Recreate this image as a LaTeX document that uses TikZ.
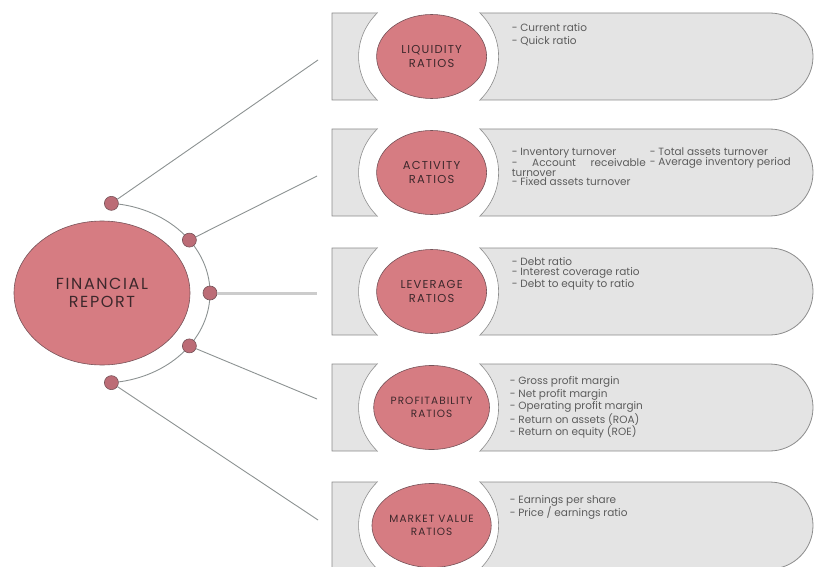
\documentclass[tikz,border=0pt]{standalone}
\usepackage{fontspec}
\setmainfont{Poppins}
\newfontfamily\capsfont[LetterSpace=10]{Poppins}
\usepackage{tikz}
\usetikzlibrary{positioning, calc, shapes.geometric, shapes.misc}
\definecolor{frInk}{RGB}{62,40,44}
\definecolor{frText}{RGB}{92,92,92}
\definecolor{frPink}{RGB}{214,124,130}
\definecolor{frDot}{RGB}{188,108,118}
\definecolor{frRim}{RGB}{118,82,88}
\definecolor{frBox}{RGB}{228,228,228}
\definecolor{frBoxLine}{RGB}{140,140,140}
\definecolor{frLine}{RGB}{140,146,146}
\definecolor{frLineT}{RGB}{204,204,204}

\begin{document}
\begin{tikzpicture}[
    x=1pt, y=-1pt,
    ratiobox/.style={rounded rectangle, rounded rectangle west arc=none, draw=frBoxLine, fill=frBox,
                     line width=0.8pt, minimum width=481pt, minimum height=87pt, inner sep=0pt},
    halo/.style={ellipse, fill=white, minimum width=140pt, minimum height=128pt, inner sep=0pt},
    ring/.style={draw=frBoxLine, line width=0.6pt},
    ratiocirc/.style={ellipse, draw=frRim, fill=frPink, line width=0.6pt, minimum width=110pt,
                      minimum height=84pt, inner sep=0pt, align=center, text=frInk,
                      font=\capsfont\fontsize{11.5}{13.5}\selectfont},
    items/.style={anchor=north west, align=left, inner sep=0pt, text=frText,
                  font=\fontsize{10.5}{13}\selectfont},
    joint/.style={circle, draw=frRim, fill=frDot, line width=0.6pt, minimum size=14pt, inner sep=0pt},
    spoke/.style={draw=frLine, line width=0.9pt},
    mainspoke/.style={draw=frLineT, line width=3pt},
]
\useasboundingbox (0,0) rectangle (817,567);

% --- Right: the five ratio boxes ---
\node[ratiobox] (b1) at (572.5,56.5) {};
\node[ratiobox] (b2) at (572.5,172.5) {};
\node[ratiobox] (b3) at (572.5,291.5) {};
\node[ratiobox] (b4) at (572.5,407.5) {};
\node[ratiobox] (b5) at (572.5,525.5) {};

% White halos behind the ratio circles
\node[halo] (w1) at ([xshift=97pt]b1.west) {};
\node[halo] (w2) at ([xshift=97pt]b2.west) {};
\node[halo] (w3) at ([xshift=97pt]b3.west) {};
\node[halo] (w4) at ([xshift=97pt]b4.west) {};
\node[halo] (w5) at ([xshift=97pt]b5.west) {};

% Halo outlines, only inside the boxes
\begin{scope}
  \clip (b1.south west) rectangle (b1.north east) (b2.south west) rectangle (b2.north east)
        (b3.south west) rectangle (b3.north east) (b4.south west) rectangle (b4.north east)
        (b5.south west) rectangle (b5.north east);
  \draw[ring] (w1.center) ellipse [x radius=70pt, y radius=64pt];
  \draw[ring] (w2.center) ellipse [x radius=70pt, y radius=64pt];
  \draw[ring] (w3.center) ellipse [x radius=70pt, y radius=64pt];
  \draw[ring] (w4.center) ellipse [x radius=70pt, y radius=64pt];
  \draw[ring] (w5.center) ellipse [x radius=70pt, y radius=64pt];
\end{scope}

% Ratio circles
\node[ratiocirc] (r1) at ([xshift=3pt]w1.center) {LIQUIDITY\\RATIOS};
\node[ratiocirc] (r2) at ([xshift=3pt]w2.center) {ACTIVITY\\RATIOS};
\node[ratiocirc] (r3) at ([xshift=3pt]w3.center) {LEVERAGE\\RATIOS};
\node[ratiocirc, font=\capsfont\fontsize{10.5}{13.5}\selectfont] (r4) at ([xshift=3pt]w4.center) {PROFITABILITY\\RATIOS};
\node[ratiocirc, font=\capsfont\fontsize{10.5}{13.5}\selectfont] (r5) at ([xshift=3pt]w5.center) {MARKET VALUE\\RATIOS};

% Ratio lists
\node[items] (t1) at ($(b1.north west)+(180,11)$) {- Current ratio\\- Quick ratio};
\node[items, text width=134pt, align=justify, font=\fontsize{10.5}{9.5}\selectfont] (t2a)
     at ($(b2.north west)+(180,19)$)
     {- Inventory turnover\\- Account receivable turnover\\- Fixed assets turnover};
\node[items, font=\fontsize{10.5}{9.5}\selectfont] (t2b) at ($(b2.north west)+(318,19)$)
     {- Total assets turnover\\- Average inventory period};
\node[items, font=\fontsize{10.5}{9.5}\selectfont] (t3) at ($(b3.north west)+(180,10)$)
     {- Debt ratio\\- Interest coverage ratio\\- Debt to equity to ratio};
\node[items, font=\fontsize{10.5}{12.5}\selectfont] (t4) at ($(b4.north west)+(178,13)$)
     {- Gross profit margin\\- Net profit margin\\- Operating profit margin\\- Return on assets (ROA)\\- Return on equity (ROE)};
\node[items] (t5) at ($(b5.north west)+(178,14)$)
     {- Earnings per share\\- Price / earnings ratio};

% --- Left: Financial report ---
\node[ellipse, draw=frRim, fill=frPink, line width=0.6pt, minimum width=176pt, minimum height=144pt,
      inner sep=0pt, align=center, text=frInk, font=\capsfont\fontsize{16}{18}\selectfont] (fin) at (102,293)
      {FINANCIAL\\REPORT};

% Arc round the report
\draw[spoke] ($(fin.center)+(-85:108 and 90)$) arc [start angle=-85, end angle=85, x radius=108, y radius=90];

% Free ends of the spokes
\coordinate (c1) at (318,60);
\coordinate (c2) at (317,176);
\coordinate (c3) at (317,293);
\coordinate (c4) at (317,399);
\coordinate (c5) at (318,520);

% Joints on the arc
\node[joint] (d1) at ($(fin.center)+(-85:108 and 90)$) {};
\node[joint] (d2) at ($(fin.center)+(-36:108 and 90)$) {};
\node[joint] (d3) at ($(fin.center)+(0:108 and 90)$) {};
\node[joint] (d4) at ($(fin.center)+(36:108 and 90)$) {};
\node[joint] (d5) at ($(fin.center)+(85:108 and 90)$) {};

\draw[spoke] (d1) -- (c1);
\draw[spoke] (d2) -- (c2);
\draw[mainspoke] (d3) -- (c3);
\draw[spoke] (d4) -- (c4);
\draw[spoke] (d5) -- (c5);

\end{tikzpicture}
\end{document}
